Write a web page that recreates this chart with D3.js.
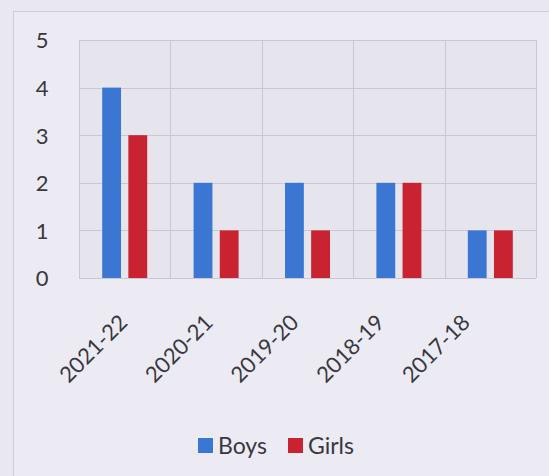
<!DOCTYPE html>
<html>
<head>
<meta charset="utf-8">
<script src="https://cdn.jsdelivr.net/npm/d3@7"></script>
<style>
  body { margin: 0; background: #e9e8f1; }
  svg { display: block; }
</style>
</head>
<body>
<svg id="chart" width="549" height="476"></svg>
<script>

// Chart data
const years = ['2021-22', '2020-21', '2019-20', '2018-19', '2017-18'];
const boys  = [4, 2, 2, 2, 1];
const girls = [3, 1, 1, 2, 1];
const yTicks = [0, 1, 2, 3, 4, 5];
const seriesNames = ['Boys', 'Girls'];
const seriesColors = ['#3a76d2', '#c92230'];

const svg = d3.select('#chart');
const font = 'Lato, "Open Sans", sans-serif';
const textColor = '#38383e';

// Outer chart frame
svg.append('rect')
    .attr('x', 13.5).attr('y', 11.5)
    .attr('width', 560).attr('height', 480)
    .attr('fill', '#ecebf3')
    .attr('stroke', '#cfcfd8');

// Plot area
const plot = {left: 79, right: 536, top: 40, bottom: 278};

const x = d3.scaleBand()
    .domain(years)
    .range([plot.left, plot.right]);

const x1 = d3.scaleBand()
    .domain(seriesNames)
    .range([0, 45])
    .paddingInner(0.28);

const y = d3.scaleLinear()
    .domain([0, 5])
    .range([plot.bottom, plot.top]);

svg.append('rect')
    .attr('x', plot.left).attr('y', plot.top)
    .attr('width', plot.right - plot.left).attr('height', plot.bottom - plot.top)
    .attr('fill', '#e6e5ee');

// Horizontal gridlines
svg.append('g')
    .selectAll('line')
    .data(yTicks)
    .join('line')
    .attr('x1', plot.left).attr('x2', plot.right)
    .attr('y1', d => Math.round(y(d)) + 0.5)
    .attr('y2', d => Math.round(y(d)) + 0.5)
    .attr('stroke', '#c9c8d2')
    .attr('stroke-width', 1);

// Vertical gridlines at category boundaries
svg.append('g')
    .selectAll('line')
    .data(years.map(d => x(d)).concat([plot.right]))
    .join('line')
    .attr('x1', d => Math.round(d) + 0.5).attr('x2', d => Math.round(d) + 0.5)
    .attr('y1', plot.top).attr('y2', plot.bottom)
    .attr('stroke', '#c9c8d2')
    .attr('stroke-width', 1);

// Y axis labels
const yAxis = svg.append('g')
    .attr('transform', `translate(${plot.left - 27},0)`)
    .call(d3.axisLeft(y).tickValues(yTicks).tickSize(0).tickPadding(0).tickFormat(d3.format('d')));
yAxis.select('.domain').remove();
yAxis.selectAll('text')
    .attr('text-anchor', 'middle')
    .attr('x', -10)
    .attr('dy', '0.36em')
    .attr('font-family', font)
    .attr('font-size', 22)
    .attr('fill', textColor);

// Bars
const rows = years.map((yr, i) => ({year: yr, values: [boys[i], girls[i]]}));

const groups = svg.append('g')
    .selectAll('g')
    .data(rows)
    .join('g')
    .attr('transform', d => `translate(${x(d.year) + x.bandwidth() / 2 - 22.5},0)`);

groups.selectAll('rect')
    .data(d => d.values.map((v, j) => ({name: seriesNames[j], value: v, color: seriesColors[j]})))
    .join('rect')
    .attr('x', d => x1(d.name))
    .attr('y', d => y(d.value))
    .attr('width', x1.bandwidth())
    .attr('height', d => y(0) - y(d.value))
    .attr('fill', d => d.color);

// X axis labels, rotated (labels sit a little tighter than the bars)
const xLabel = d3.scalePoint()
    .domain(years)
    .range([x(years[0]) + x.bandwidth() / 2 + 4, x(years[years.length - 1]) + x.bandwidth() / 2 - 19]);

svg.append('g')
    .selectAll('text')
    .data(years)
    .join('text')
    .attr('transform', d => `translate(${xLabel(d)},${plot.bottom + 46}) rotate(-45)`)
    .attr('text-anchor', 'end')
    .attr('font-family', font)
    .attr('font-size', 22)
    .attr('fill', textColor)
    .text(d => d);

// Legend
const legend = svg.append('g')
    .attr('transform', 'translate(198,438)');
const legendX = [0, 90];
seriesNames.forEach((name, i) => {
    const item = legend.append('g').attr('transform', `translate(${legendX[i]},0)`);
    item.append('rect')
        .attr('width', 15).attr('height', 15)
        .attr('fill', seriesColors[i]);
    item.append('text')
        .attr('x', 20).attr('y', 16)
        .attr('font-family', font)
        .attr('font-size', 23)
        .attr('fill', textColor)
        .text(name);
});

</script>
</body>
</html>
